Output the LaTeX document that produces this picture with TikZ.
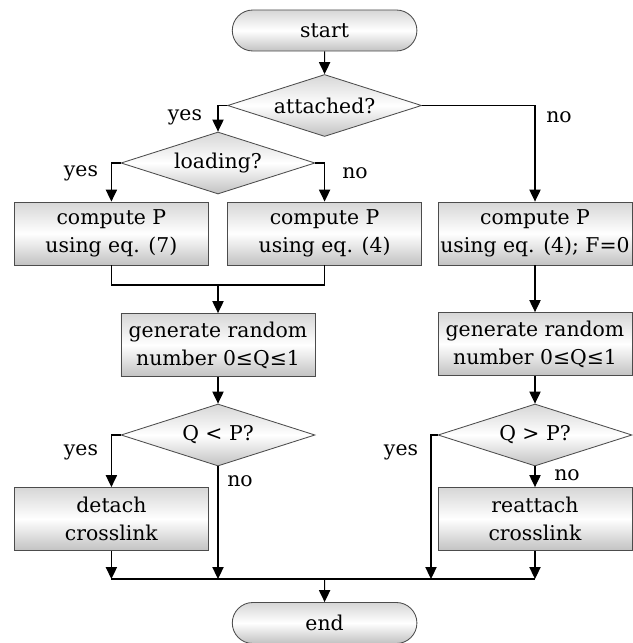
\documentclass[tikz,border=0pt]{standalone}
\usepackage{fontspec}
\setmainfont{DejaVu Serif}
\usetikzlibrary{shapes.geometric, shapes.misc, arrows.meta}

\begin{document}
\begin{tikzpicture}[x=0.25mm, y=-0.25mm, font=\fontsize{14.5}{20}\selectfont,
    shadebox/.style={draw=black!70, line width=0.6pt, top color=black!16, bottom color=black!24, middle color=white},
    terminal/.style={shadebox, rounded rectangle, minimum width=48.5mm, minimum height=10.25mm},
    process/.style={shadebox, rectangle, align=center, inner sep=1pt, minimum width=48.5mm, minimum height=15.75mm},
    decision/.style={shadebox, diamond, shape aspect=3, inner sep=0pt, minimum width=48.5mm, minimum height=15.5mm},
    flow/.style={line width=0.8pt, -{Triangle[length=8.5pt, width=8pt]}},
    wire/.style={line width=0.8pt}]
    \useasboundingbox (0,0) rectangle (633,643);
    % start and first question
    \node[terminal] (start) at (324.6,30.5) {start};
    \node[decision] (attached) at (324.6,105.5) {attached?};
    \node[decision] (loading) at (218,163) {loading?};
    % probability boxes
    \node[process] (eq7) at (111.4,233.5) {compute P\\using eq. (7)};
    \node[process] (eq4) at (324.6,233.5) {compute P\\using eq. (4)};
    \node[process] (eq4f) at (535,233.5) {compute P\\using eq. (4); F=0};
    \node[process] (rand1) at (218,345) {generate random\\number 0≤Q≤1};
    \node[process] (rand2) at (535,344) {generate random\\number 0≤Q≤1};
    % second questions and actions
    \node[decision] (less) at (218,435) {Q < P?};
    \node[decision] (more) at (535,435) {Q > P?};
    \node[process] (detach) at (111.4,519) {detach\\crosslink};
    \node[process] (reattach) at (535,519) {reattach\\crosslink};
    \node[terminal] (end) at (324.6,623) {end};
    \coordinate (join) at (218,285);
    \coordinate (bus) at (324.6,579);
    \coordinate (yes2) at (431,579);

    \draw[flow] (start) -- (attached);
    \draw[flow] (attached.west) -| (loading.north);
    \draw[flow] (attached.east) -| (eq4f.north);
    \draw[flow] (loading.west) -| (eq7.north);
    \draw[flow] (loading.east) -| (eq4.north);
    \draw[wire] (eq7.south) |- (join) -| (eq4.south);
    \draw[flow] (join) -- (rand1);
    \draw[flow] (eq4f) -- (rand2);
    \draw[flow] (rand1) -- (less);
    \draw[flow] (rand2) -- (more);
    \draw[flow] (less.west) -| (detach.north);
    \draw[flow] (less.south) -- (less.south |- bus);
    \draw[flow] (more.west) -| (yes2);
    \draw[flow] (more) -- (reattach);
    \foreach \b in {detach,reattach} \draw[flow] (\b.south) -- (\b.south |- bus);
    \draw[wire] (detach.south |- bus) -- (reattach.south |- bus);
    \draw[flow] (bus) -- (end);

    % branch labels
    \node (y1) at (185,117) {yes};
    \node (n1) at (559,117) {no};
    \node (y2) at (81,173) {yes};
    \node (n2) at (355,173) {no};
    \node (y3) at (81,452) {yes};
    \node (n3) at (240,481) {no};
    \node (y4) at (401,452) {yes};
    \node (n4) at (567,475) {no};
\end{tikzpicture}
\end{document}
